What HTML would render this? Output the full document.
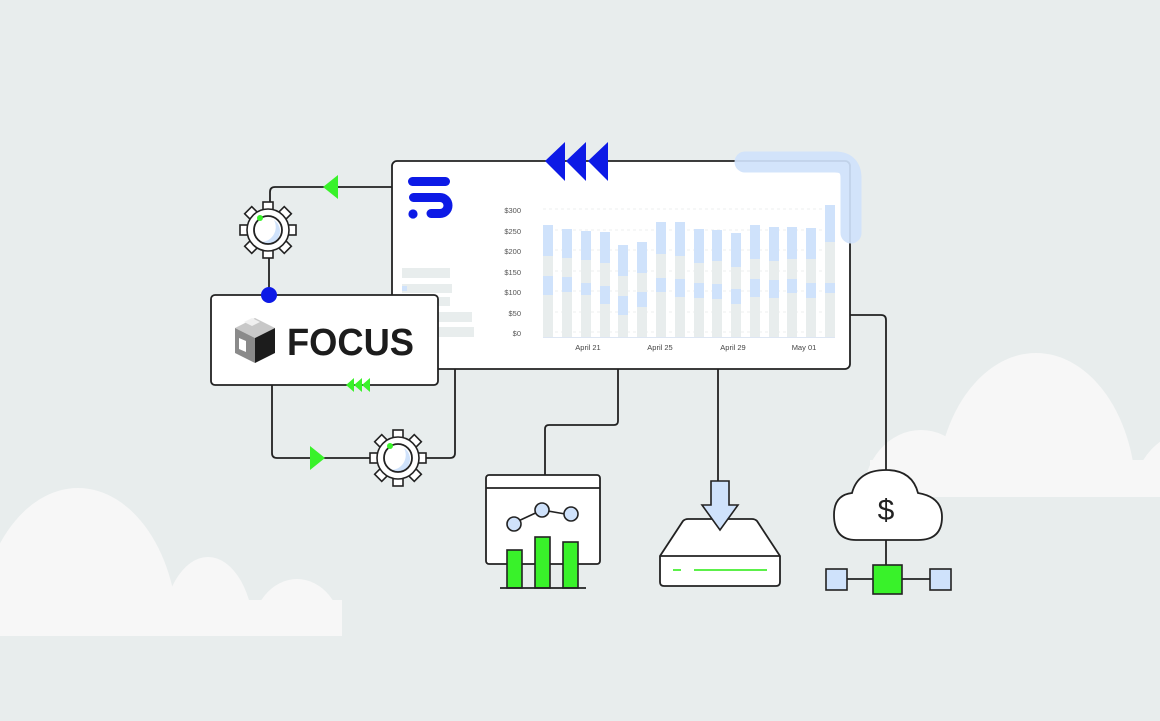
<!DOCTYPE html>
<html><head><meta charset="utf-8"><style>
html,body{margin:0;padding:0;background:#e8eded;width:1160px;height:721px;overflow:hidden;}
svg{display:block;font-family:"Liberation Sans",sans-serif;}
</style></head><body>
<svg width="1160" height="721" viewBox="0 0 1160 721" xmlns="http://www.w3.org/2000/svg">
<defs>
<clipPath id="cl"><rect x="0" y="0" width="342" height="636"/></clipPath>
<clipPath id="cr"><rect x="800" y="0" width="360" height="497"/></clipPath>
<g id="gear">
 <g fill="#fff" stroke="#222" stroke-width="1.6">
  <rect x="-5" y="-28" width="10" height="12" transform="rotate(0)"/>
  <rect x="-5" y="-28" width="10" height="12" transform="rotate(45)"/>
  <rect x="-5" y="-28" width="10" height="12" transform="rotate(90)"/>
  <rect x="-5" y="-28" width="10" height="12" transform="rotate(135)"/>
  <rect x="-5" y="-28" width="10" height="12" transform="rotate(180)"/>
  <rect x="-5" y="-28" width="10" height="12" transform="rotate(225)"/>
  <rect x="-5" y="-28" width="10" height="12" transform="rotate(270)"/>
  <rect x="-5" y="-28" width="10" height="12" transform="rotate(315)"/>
  <circle r="21"/>
 </g>
 <path d="M6,-10 A13,13 0 0 1 -8,12 A15,15 0 0 0 6,-10Z" fill="#cfe2fb"/>
 <circle r="14" fill="none" stroke="#222" stroke-width="1.8"/>
 <circle cx="-8" cy="-12" r="3" fill="#39f22a"/>
</g>
</defs>
<rect width="1160" height="721" fill="#e8eded"/>
<!-- clouds -->
<g fill="#f7f7f7" clip-path="url(#cl)">
 <ellipse cx="78" cy="636" rx="100" ry="148"/>
 <ellipse cx="208" cy="636" rx="46" ry="79"/>
 <ellipse cx="297" cy="636" rx="46" ry="57"/>
 <rect x="0" y="600" width="342" height="36"/>
</g>
<g fill="#f7f7f7" clip-path="url(#cr)">
 <ellipse cx="1036" cy="497" rx="100" ry="144"/>
 <ellipse cx="921" cy="497" rx="58" ry="67"/>
 <ellipse cx="1195" cy="497" rx="62" ry="67"/>
 <rect x="870" y="460" width="290" height="37"/>
</g>

<!-- connectors -->
<g fill="none" stroke="#222" stroke-width="1.8">
 <path d="M392,187 H275 Q270,187 270,192 V205"/>
 <path d="M269,255 V295"/>
 <path d="M272,385 V453 Q272,458 277,458 H370"/>
 <path d="M426,458 H450 Q455,458 455,453 V369"/>
 <path d="M618,369 V421 Q618,425 614,425 H549 Q545,425 545,429 V475"/>
 <path d="M718,369 V481"/>
 <path d="M850,315 H881 Q886,315 886,320 V470"/>
</g>
<!-- main card -->
<rect x="392" y="161" width="458" height="208" rx="5" fill="#fff" stroke="#222" stroke-width="1.8"/>
<!-- logo -->
<rect x="408" y="177" width="42" height="9" rx="4.5" fill="#0d1ae6"/>
<path d="M413.5,197.5 H440 A8,8 0 0 1 440,213.5 H431" fill="none" stroke="#0d1ae6" stroke-width="9" stroke-linecap="round"/>
<circle cx="413" cy="214" r="4.6" fill="#0d1ae6"/>
<!-- left lines -->
<g fill="#e8eded">
 <rect x="402" y="268" width="48" height="10"/>
 <rect x="402" y="284" width="50" height="9"/>
 <rect x="402" y="297" width="48" height="9"/>
 <rect x="402" y="312" width="70" height="10"/>
 <rect x="402" y="327" width="72" height="10"/>
</g>
<rect x="402" y="286" width="5" height="5" fill="#cfe2fb"/>
<!-- chart -->
<g stroke="#e6eaea" stroke-width="0.8" stroke-dasharray="3,3">
 <line x1="543" y1="209" x2="835" y2="209"/><line x1="543" y1="230" x2="835" y2="230"/>
 <line x1="543" y1="250" x2="835" y2="250"/><line x1="543" y1="271" x2="835" y2="271"/>
 <line x1="543" y1="291" x2="835" y2="291"/><line x1="543" y1="312" x2="835" y2="312"/>
 <line x1="543" y1="332" x2="835" y2="332"/>
</g>
<g font-size="7.5" fill="#555" text-anchor="end">
 <text x="521" y="213">$300</text><text x="521" y="234">$250</text><text x="521" y="254">$200</text>
 <text x="521" y="275">$150</text><text x="521" y="295">$100</text><text x="521" y="316">$50</text><text x="521" y="336">$0</text>
</g>
<g>
 <rect x="543" y="225" width="10" height="112" fill="#e8eded"/><rect x="543" y="225" width="10" height="31" fill="#cfe2fb"/><rect x="543" y="276" width="10" height="19" fill="#cfe2fb"/>
 <rect x="562" y="229" width="10" height="108" fill="#e8eded"/><rect x="562" y="229" width="10" height="29" fill="#cfe2fb"/><rect x="562" y="277" width="10" height="15" fill="#cfe2fb"/>
 <rect x="581" y="231" width="10" height="106" fill="#e8eded"/><rect x="581" y="231" width="10" height="29" fill="#cfe2fb"/><rect x="581" y="283" width="10" height="12" fill="#cfe2fb"/>
 <rect x="600" y="232" width="10" height="105" fill="#e8eded"/><rect x="600" y="232" width="10" height="31" fill="#cfe2fb"/><rect x="600" y="286" width="10" height="18" fill="#cfe2fb"/>
 <rect x="618" y="245" width="10" height="92" fill="#e8eded"/><rect x="618" y="245" width="10" height="31" fill="#cfe2fb"/><rect x="618" y="296" width="10" height="19" fill="#cfe2fb"/>
 <rect x="637" y="242" width="10" height="95" fill="#e8eded"/><rect x="637" y="242" width="10" height="31" fill="#cfe2fb"/><rect x="637" y="292" width="10" height="15" fill="#cfe2fb"/>
 <rect x="656" y="222" width="10" height="115" fill="#e8eded"/><rect x="656" y="222" width="10" height="32" fill="#cfe2fb"/><rect x="656" y="278" width="10" height="14" fill="#cfe2fb"/>
 <rect x="675" y="222" width="10" height="115" fill="#e8eded"/><rect x="675" y="222" width="10" height="34" fill="#cfe2fb"/><rect x="675" y="279" width="10" height="18" fill="#cfe2fb"/>
 <rect x="694" y="229" width="10" height="108" fill="#e8eded"/><rect x="694" y="229" width="10" height="34" fill="#cfe2fb"/><rect x="694" y="283" width="10" height="15" fill="#cfe2fb"/>
 <rect x="712" y="230" width="10" height="107" fill="#e8eded"/><rect x="712" y="230" width="10" height="31" fill="#cfe2fb"/><rect x="712" y="284" width="10" height="15" fill="#cfe2fb"/>
 <rect x="731" y="233" width="10" height="104" fill="#e8eded"/><rect x="731" y="233" width="10" height="34" fill="#cfe2fb"/><rect x="731" y="289" width="10" height="15" fill="#cfe2fb"/>
 <rect x="750" y="225" width="10" height="112" fill="#e8eded"/><rect x="750" y="225" width="10" height="34" fill="#cfe2fb"/><rect x="750" y="279" width="10" height="18" fill="#cfe2fb"/>
 <rect x="769" y="227" width="10" height="110" fill="#e8eded"/><rect x="769" y="227" width="10" height="34" fill="#cfe2fb"/><rect x="769" y="280" width="10" height="18" fill="#cfe2fb"/>
 <rect x="787" y="227" width="10" height="110" fill="#e8eded"/><rect x="787" y="227" width="10" height="32" fill="#cfe2fb"/><rect x="787" y="279" width="10" height="14" fill="#cfe2fb"/>
 <rect x="806" y="228" width="10" height="109" fill="#e8eded"/><rect x="806" y="228" width="10" height="31" fill="#cfe2fb"/><rect x="806" y="283" width="10" height="15" fill="#cfe2fb"/>
 <rect x="825" y="205" width="10" height="132" fill="#e8eded"/><rect x="825" y="205" width="10" height="37" fill="#cfe2fb"/><rect x="825" y="283" width="10" height="10" fill="#cfe2fb"/>
</g>
<line x1="543" y1="337.5" x2="835" y2="337.5" stroke="#dde6f3" stroke-width="1"/>
<g font-size="7.5" fill="#444" text-anchor="middle">
 <text x="588" y="350">April 21</text><text x="660" y="350">April 25</text><text x="733" y="350">April 29</text><text x="804" y="350">May 01</text>
</g>
<!-- blue highlight band -->
<path d="M745,162 H835 Q851,162 851,178 V233" fill="none" stroke="#cfe2fb" stroke-width="21" stroke-linecap="round" opacity="0.92"/>
<!-- blue triple arrows -->
<g fill="#0d1ae6">
 <polygon points="545,161 565,142 565,181"/>
 <polygon points="566,161 586,142 586,181"/>
 <polygon points="588,161 608,142 608,181"/>
</g>
<!-- green arrows -->
<polygon points="323,187 338,175 338,199" fill="#39f22a"/>
<polygon points="325,458 310,446 310,470" fill="#39f22a"/>
<!-- gears -->
<use href="#gear" x="268" y="230"/>
<use href="#gear" x="398" y="458"/>
<!-- FOCUS box -->
<rect x="211" y="295" width="227" height="90" rx="4" fill="#fff" stroke="#222" stroke-width="1.8"/>
<circle cx="269" cy="295" r="8" fill="#0d1ae6"/>
<g fill="#39f22a">
 <polygon points="346,385 354,378 354,392"/>
 <polygon points="354,385 362,378 362,392"/>
 <polygon points="362,385 370,378 370,392"/>
</g>
<!-- cube -->
<polygon points="255,318 275,328 255,338 235,328" fill="#c8c8c8"/>
<polygon points="244,322 252,318 260,322 252,326" fill="#f0f0f0"/>
<polygon points="235,328 255,338 255,363 235,353" fill="#8a8a8a"/>
<polygon points="239,338 246,341 246,352 239,349" fill="#fff"/>
<polygon points="255,338 275,328 275,353 255,363" fill="#1c1c1c"/>
<text x="287" y="355" font-size="38" font-weight="bold" fill="#1c1c1c" textLength="127" lengthAdjust="spacingAndGlyphs">FOCUS</text>
<!-- chart icon -->
<rect x="486" y="475" width="114" height="89" rx="3" fill="#fff" stroke="#222" stroke-width="1.8"/>
<line x1="486" y1="488" x2="600" y2="488" stroke="#222" stroke-width="1.8"/>
<polyline points="514,523 542,510 571,515" fill="none" stroke="#222" stroke-width="1.6"/>
<g fill="#cfe2fb" stroke="#222" stroke-width="1.6">
 <circle cx="514" cy="524" r="7"/><circle cx="542" cy="510" r="7"/><circle cx="571" cy="514" r="7"/>
</g>
<g fill="#39f22a" stroke="#222" stroke-width="1.6">
 <rect x="507" y="550" width="15" height="38"/><rect x="535" y="537" width="15" height="51"/><rect x="563" y="542" width="15" height="46"/>
</g>
<line x1="500" y1="588" x2="586" y2="588" stroke="#222" stroke-width="1.8"/>
<!-- drive -->
<path d="M660,556 L683,521 Q685,519 688,519 H752 Q755,519 757,521 L780,556 V582 Q780,586 776,586 H664 Q660,586 660,582 Z" fill="#fff" stroke="#222" stroke-width="1.8"/>
<line x1="660" y1="556" x2="780" y2="556" stroke="#222" stroke-width="1.8"/>
<line x1="673" y1="570" x2="681" y2="570" stroke="#5cf04a" stroke-width="2"/>
<line x1="694" y1="570" x2="767" y2="570" stroke="#5cf04a" stroke-width="2"/>
<polygon points="711,481 729,481 729,505 738,505 720,530 702,505 711,505" fill="#cfe2fb" stroke="#222" stroke-width="1.6"/>
<!-- cloud -->
<path d="M856,540 Q834,540 834,515 Q834,495 852,493 Q858,470 886,470 Q912,470 918,493 Q942,497 942,517 Q942,540 918,540 Z" fill="#fff" stroke="#222" stroke-width="1.8"/>
<text x="886" y="520" font-size="30" text-anchor="middle" fill="#222">$</text>
<line x1="886" y1="540" x2="886" y2="565" stroke="#222" stroke-width="1.8"/>
<line x1="847" y1="579" x2="930" y2="579" stroke="#222" stroke-width="1.8"/>
<rect x="826" y="569" width="21" height="21" fill="#cfe2fb" stroke="#222" stroke-width="1.6"/>
<rect x="930" y="569" width="21" height="21" fill="#cfe2fb" stroke="#222" stroke-width="1.6"/>
<rect x="873" y="565" width="29" height="29" fill="#39f22a" stroke="#222" stroke-width="1.6"/>
</svg>
</body></html>
